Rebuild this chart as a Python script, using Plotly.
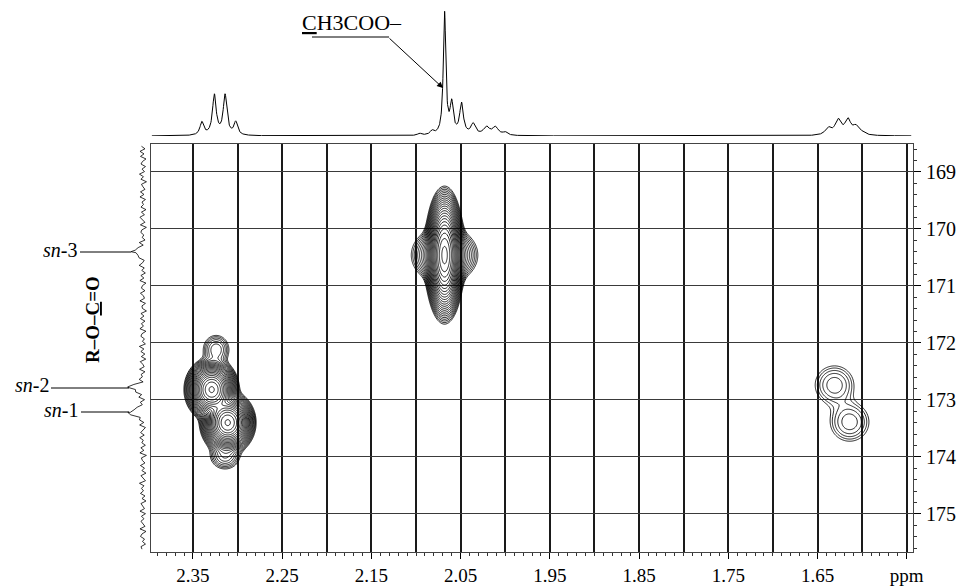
import numpy as np
import plotly.graph_objects as go

# ---------------- data ----------------
# 2D cross peaks: 1H shift (ppm), 13C shift (ppm), amplitude, 1H width, 13C width
cross_h   = [2.329, 2.311, 2.324, 2.314, 2.068, 2.068, 1.631, 1.614]
cross_c   = [172.82, 173.40, 172.12, 173.98, 170.46, 170.46, 172.74, 173.39]
cross_amp = [400, 400, 5, 5, 400, 22, 3.6, 3.6]
cross_wh  = [0.0090, 0.0092, 0.008, 0.009, 0.0066, 0.0150, 0.0135, 0.0135]
cross_wc  = [0.165, 0.165, 0.14, 0.13, 0.35, 0.20, 0.21, 0.21]

# 1H projection (top): peak positions, intensities, half widths
h_peak_ppm = [2.340, 2.326, 2.314, 2.302,
              2.096, 2.082, 2.068, 2.060, 2.049, 2.036, 2.021, 2.011, 2.000,
              1.638, 1.627, 1.616, 1.607, 1.600]
h_peak_int = [13, 40, 40, 13,
              2, 4, 122, 30, 31, 11, 8, 8, 3,
              7, 15, 15, 8, 2]
h_peak_hw  = [0.0025, 0.0025, 0.0025, 0.0025,
              0.0025, 0.0025, 0.0017, 0.0022, 0.0025, 0.003, 0.004, 0.004, 0.003,
              0.004, 0.004, 0.004, 0.004, 0.004]

# 13C projection (left): carbonyl peaks sn-3, sn-2, sn-1
c_peak_ppm = [170.40, 172.78, 173.22]
c_peak_int = [12, 15, 15]
c_peak_hw  = [0.04, 0.05, 0.05]
c_baseline = 8
c_noise = [
 1.5,-2.0,3.0,-1.0,2.5,-3.0,0.5,2.0,-2.5,1.0,-1.5,3.5,-0.5,2.0,-3.5,1.5,0.0,-2.0,2.5,-1.0,
 3.0,-2.5,1.0,-0.5,2.0,-3.0,1.5,-1.5,3.0,0.5,-2.0,2.5,-3.5,1.0,2.0,-1.0,0.5,-2.5,3.0,-1.5,
 2.0,-0.5,-3.0,1.5,2.5,-2.0,0.0,3.5,-1.5,1.0,-2.5,2.0,-1.0,3.0,-3.0,0.5,1.5,-2.0,2.5,-0.5,
 -1.5,3.0,-2.5,1.0,0.5,-3.5,2.0,-1.0,2.5,-2.0,1.5,-0.5,3.0,-3.0,1.0,2.0,-1.5,0.5,-2.5,3.5,
 -1.0,2.0,-2.0,1.5,-3.0,2.5,0.0,-1.5,3.0,-2.5,1.0,-0.5,2.0,-3.5,1.5,0.5,-2.0,3.0,-1.0,2.5,
 -3.0,1.0,-1.5,2.0,0.5,-2.5,3.5,-1.0,1.5,-2.0,2.5,-3.0,0.0,2.0,-1.5,3.0,-0.5,1.0,-2.5,2.0,
 -1.0,3.0,-3.5,1.5,0.5,-2.0,2.5,-1.5,1.0,-3.0,2.0,0.0,-2.5,3.5,-1.0,1.5,-0.5,2.5,-2.0,1.0,
 -3.0,2.0,0.5,-1.5,3.0,-2.5,1.5,-1.0,2.0,-0.5,-2.0,3.0,-3.0,1.0,2.5,-1.5,0.5,-2.5,2.0,1.0]

x_tick_vals = [2.35, 2.30, 2.25, 2.20, 2.15, 2.10, 2.05, 2.00, 1.95, 1.90,
               1.85, 1.80, 1.75, 1.70, 1.65, 1.60, 1.55]
x_tick_text = ["2.35", "", "2.25", "", "2.15", "", "2.05", "", "1.95", "",
               "1.85", "", "1.75", "", "1.65", "", "ppm"]
y_tick_vals = [169, 170, 171, 172, 173, 174, 175]
y_tick_text = ["169", "170", "171", "172", "173", "174", "175"]

X_RANGE = [2.397, 1.543]
Y_RANGE = [175.67, 168.51]

W, H = 958, 587
def px(x): return x / W
def py(y): return 1 - y / H

# ---------------- computed spectra ----------------
gx = np.linspace(X_RANGE[0], X_RANGE[1], 760)
gy = np.linspace(Y_RANGE[1], Y_RANGE[0], 400)
GX, GY = np.meshgrid(gx, gy)
Z = np.zeros_like(GX)
for x0, y0, a, wx, wy in zip(cross_h, cross_c, cross_amp, cross_wh, cross_wc):
    Z += a * np.exp(-0.5 * ((GX - x0) / wx) ** 2 - 0.5 * ((GY - y0) / wy) ** 2)
logZ = np.log(np.maximum(Z, 1e-4)).astype(np.float32)

hx = np.linspace(2.396, 1.545, 2600)
hy = np.zeros_like(hx)
for p, a, w in zip(h_peak_ppm, h_peak_int, h_peak_hw):
    hy += a / (1 + ((hx - p) / w) ** 2)

c_axis = np.linspace(168.55, 175.62, len(c_noise))
c_pts = np.concatenate([c_axis, np.array(c_peak_ppm)])
c_nz = np.concatenate([np.array(c_noise), np.zeros(len(c_peak_ppm))])
order = np.argsort(c_pts)
c_pts, c_nz = c_pts[order], c_nz[order]
c_int = c_baseline + c_nz
for p, a, w in zip(c_peak_ppm, c_peak_int, c_peak_hw):
    c_int = c_int + a / (1 + ((c_pts - p) / w) ** 2)

# ---------------- figure ----------------
fig = go.Figure()
fig.add_trace(go.Contour(
    x=gx, y=gy, z=logZ, xaxis="x", yaxis="y",
    autocontour=False,
    contours=dict(start=0.0, end=7.0, size=0.27, coloring="lines"),
    colorscale=[[0, "black"], [1, "black"]],
    line=dict(width=0.85, smoothing=1),
    showscale=False, hoverinfo="skip"))
fig.add_trace(go.Scatter(x=hx, y=hy, xaxis="x2", yaxis="y2", mode="lines",
                         line=dict(color="black", width=1), hoverinfo="skip"))
fig.add_trace(go.Scatter(x=c_int, y=c_pts, xaxis="x3", yaxis="y3", mode="lines",
                         line=dict(color="black", width=0.8), hoverinfo="skip"))

font_family = "Liberation Serif, Times New Roman, serif"
xdom = [px(151), px(913)]
ydom = [py(552), py(144)]

fig.update_layout(
    width=W, height=H, margin=dict(l=0, r=0, t=0, b=0, autoexpand=False),
    paper_bgcolor="white", plot_bgcolor="white", showlegend=False,
    font=dict(family=font_family, size=20, color="black"),
    xaxis=dict(domain=xdom, range=X_RANGE, anchor="y", automargin=False,
               tickmode="array", tickvals=x_tick_vals, ticktext=x_tick_text,
               ticks="outside", ticklen=6, tickcolor="black", ticklabelstandoff=0,
               tickfont=dict(size=19),
               showgrid=True, gridcolor="#1a1a1a", gridwidth=1.5,
               showline=True, linecolor="#444", linewidth=1, mirror=True,
               zeroline=False,
               minor=dict(tickmode="array", tickvals=list(np.round(np.arange(2.39, 1.545, -0.01), 2)),
                          ticks="outside", ticklen=3, tickcolor="#333", showgrid=False)),
    yaxis=dict(domain=ydom, range=Y_RANGE, anchor="x", side="right", automargin=False,
               tickmode="array", tickvals=y_tick_vals, ticktext=y_tick_text,
               ticks="outside", ticklen=7, tickcolor="black", ticklabelstandoff=1,
               showgrid=True, gridcolor="#3a3a3a", gridwidth=1.2,
               showline=True, linecolor="#444", linewidth=1, mirror=True,
               zeroline=False,
               minor=dict(tickmode="array", tickvals=list(np.round(np.arange(168.6, 175.65, 0.2), 2)),
                          ticks="outside", ticklen=3, tickcolor="#333", showgrid=False)),
    xaxis2=dict(domain=xdom, range=X_RANGE, anchor="y2", visible=False),
    yaxis2=dict(domain=[py(136), py(3)], range=[0, 133], anchor="x2", visible=False),
    xaxis3=dict(domain=[px(100), px(151)], range=[51, 0], anchor="y3", visible=False),
    yaxis3=dict(domain=ydom, range=Y_RANGE, anchor="x3", visible=False),
)

ann = []
ann.append(dict(text="<i>sn</i>-3", x=px(79), y=py(250), xref="paper", yref="paper",
                xanchor="right", yanchor="middle", showarrow=False, font=dict(size=20)))
ann.append(dict(text="<i>sn</i>-2", x=px(51), y=py(385), xref="paper", yref="paper",
                xanchor="right", yanchor="middle", showarrow=False, font=dict(size=20)))
ann.append(dict(text="<i>sn</i>-1", x=px(80), y=py(410), xref="paper", yref="paper",
                xanchor="right", yanchor="middle", showarrow=False, font=dict(size=20)))
ann.append(dict(text="<b>R–O–<u>C</u>=O</b>", x=px(92), y=py(320), xref="paper", yref="paper",
                xanchor="center", yanchor="middle", textangle=-90, showarrow=False,
                font=dict(size=19)))
ann.append(dict(text="<u>C</u>H3COO–", x=px(300), y=py(22), xref="paper", yref="paper",
                xanchor="left", yanchor="middle", showarrow=False, font=dict(size=22)))
ann.append(dict(text="", x=px(443), y=py(88), xref="paper", yref="paper",
                ax=-55, ay=-51, axref="pixel", ayref="pixel", showarrow=True,
                arrowhead=2, arrowsize=1.2, arrowwidth=1, arrowcolor="black"))
fig.update_layout(annotations=ann)

shapes = []
for (x0, x1, yy) in [(80, 131, 252), (51, 129, 388), (81, 129, 412), (312, 389, 37)]:
    shapes.append(dict(type="line", xref="paper", yref="paper",
                       x0=px(x0), x1=px(x1), y0=py(yy), y1=py(yy),
                       line=dict(color="black", width=1)))
fig.update_layout(shapes=shapes)

fig.write_html("out.html", config={"displayModeBar": False},
               post_script="document.body.style.margin='0px';document.body.style.overflow='hidden';")
